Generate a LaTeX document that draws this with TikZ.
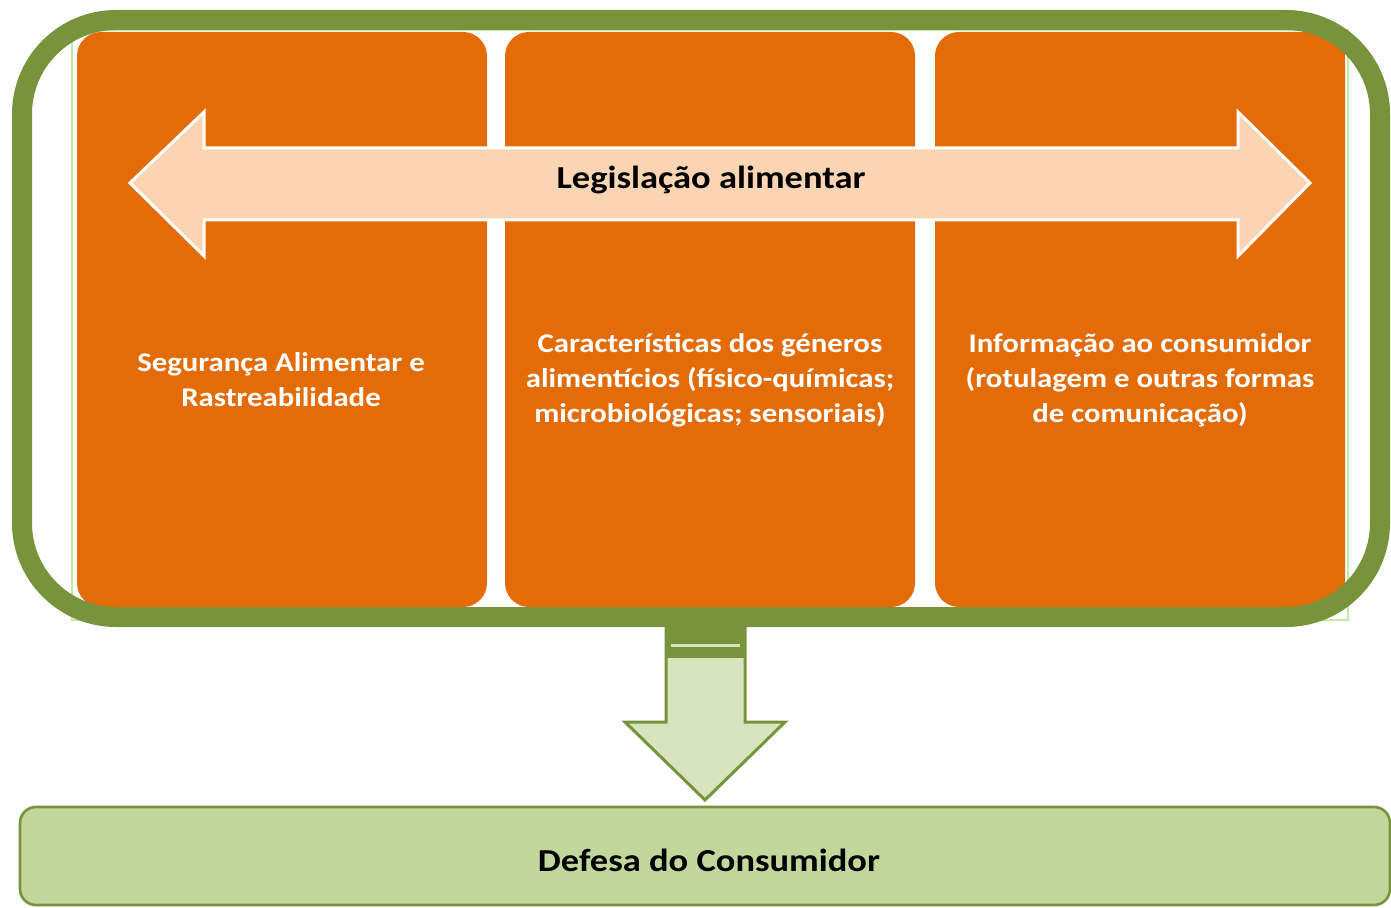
\documentclass[tikz,border=0pt]{standalone}
\usepackage{fontspec}
\setmainfont[FakeStretch=1.14]{Carlito}
\usepackage{tikz}
\usetikzlibrary{positioning}
\definecolor{moldura}{HTML}{77933C}
\definecolor{laranja}{HTML}{E36C09}
\definecolor{pessego}{HTML}{FBD4B4}
\definecolor{verdeclaro}{HTML}{D7E4BD}
\definecolor{verdecaixa}{HTML}{C3D69B}
\definecolor{verdelinha}{HTML}{C6E7A6}

\begin{document}
\begin{tikzpicture}[x=0.5pt,y=-0.5pt,
		coluna/.style={fill=laranja, rounded corners=12pt, minimum width=205pt, minimum height=287.5pt, inner sep=0pt},
		textocol/.style={text=white, font=\bfseries\fontsize{13.5}{17.5}\selectfont, align=center},
		caixa/.style={draw=moldura, line width=1.3pt, fill=verdecaixa, rounded corners=8pt, minimum width=685pt, minimum height=49pt, inner sep=0pt},
		setaseta/.style={draw=white, line width=1.5pt, fill=pessego, line join=miter},
		setabaixo/.style={draw=moldura, line width=1.5pt, fill=verdeclaro, line join=miter}]
		\useasboundingbox (0,0) rectangle (1391,908);
		\draw[verdelinha, line width=0.8pt] (72,30) rectangle (1348,620);
		\node[coluna] (c1) at (282,319.5) {};
		\node[coluna] (c2) at (710,319.5) {};
		\node[coluna] (c3) at (1140,319.5) {};
		\draw[setaseta] (130,183) -- (204,112) -- (204,148) -- (1238,148) -- (1238,112) -- (1310,183)
			-- (1238,256) -- (1238,220) -- (204,220) -- (204,256) -- cycle;
		\node[font=\bfseries\fontsize{16}{18}\selectfont] (leg) at (711,180) {Legislação alimentar};
		\node[textocol] (t1) at (281,380) {Segurança Alimentar e\\Rastreabilidade};
		\node[textocol] (t2) at (710,380) {Características dos géneros\\alimentícios (físico-químicas;\\microbiológicas; sensoriais)};
		\node[textocol] (t3) at (1140,380) {Informação ao consumidor\\(rotulagem e outras formas\\de comunicação)};
		\draw[moldura, line width=10pt, rounded corners=47pt] (22,20) rectangle (1380,617);
		\node[caixa] (def) at (705,856) {};
		\node[font=\bfseries\fontsize{16}{19}\selectfont] (deft) at (709,860) {Defesa do Consumidor};
		\draw[setabaixo] (666,628) -- (745,628) -- (745,722) -- (785,722) -- (705,800) -- (625,722)
			-- (666,722) -- cycle;
		\fill[moldura] (666,628) rectangle (745,658);
		\draw[verdeclaro, line width=1.5pt] (671,645) -- (740,645);
	\end{tikzpicture}
\end{document}
